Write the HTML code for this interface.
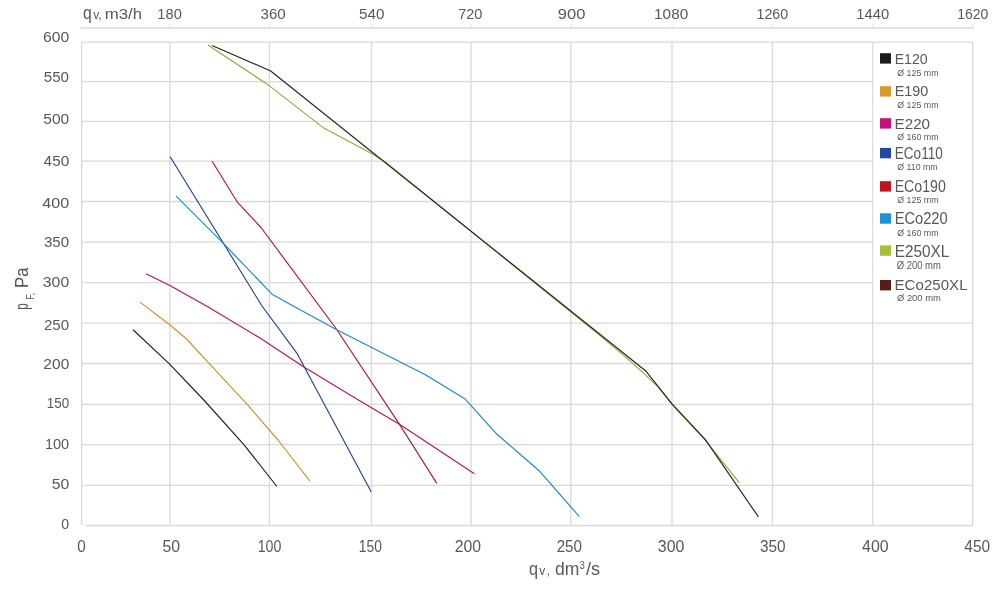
<!DOCTYPE html><html><head><meta charset="utf-8"><style>html,body{margin:0;padding:0;background:#fff;width:1000px;height:594px;overflow:hidden}svg{display:block}text{font-family:"Liberation Sans", sans-serif;fill:#585858}</style></head><body>
<svg width="1000" height="594" viewBox="0 0 1000 594">
<rect width="1000" height="594" fill="#fff"/>
<g stroke="#d9d9d9" stroke-width="1.3" fill="none"><line x1="81.6" y1="42.1" x2="972.7" y2="42.1"/><line x1="81.6" y1="81.7" x2="972.7" y2="81.7"/><line x1="81.6" y1="121.4" x2="972.7" y2="121.4"/><line x1="81.6" y1="161.1" x2="972.7" y2="161.1"/><line x1="81.6" y1="201.5" x2="972.7" y2="201.5"/><line x1="81.6" y1="242.2" x2="972.7" y2="242.2"/><line x1="81.6" y1="282.6" x2="972.7" y2="282.6"/><line x1="81.6" y1="323.1" x2="972.7" y2="323.1"/><line x1="81.6" y1="363.5" x2="972.7" y2="363.5"/><line x1="81.6" y1="404.3" x2="972.7" y2="404.3"/><line x1="81.6" y1="444.6" x2="972.7" y2="444.6"/><line x1="81.6" y1="485.4" x2="972.7" y2="485.4"/><line x1="85.5" y1="525.5" x2="972.7" y2="525.5"/><line x1="81.6" y1="42.1" x2="81.6" y2="524.6"/><line x1="169.9" y1="42.1" x2="169.9" y2="525.5"/><line x1="269.4" y1="42.1" x2="269.4" y2="525.5"/><line x1="371.5" y1="42.1" x2="371.5" y2="525.5"/><line x1="471.0" y1="42.1" x2="471.0" y2="525.5"/><line x1="570.8" y1="42.1" x2="570.8" y2="525.5"/><line x1="672.0" y1="42.1" x2="672.0" y2="525.5"/><line x1="772.5" y1="42.1" x2="772.5" y2="525.5"/><line x1="872.8" y1="42.1" x2="872.8" y2="525.5"/><line x1="972.7" y1="42.1" x2="972.7" y2="525.5"/><line x1="80.6" y1="28" x2="973.5" y2="28"/><line x1="169.9" y1="24" x2="169.9" y2="28" stroke-opacity="0.5"/><line x1="269.4" y1="24" x2="269.4" y2="28" stroke-opacity="0.5"/><line x1="371.5" y1="24" x2="371.5" y2="28" stroke-opacity="0.5"/><line x1="471.0" y1="24" x2="471.0" y2="28" stroke-opacity="0.5"/><line x1="570.8" y1="24" x2="570.8" y2="28" stroke-opacity="0.5"/><line x1="672.0" y1="24" x2="672.0" y2="28" stroke-opacity="0.5"/><line x1="772.5" y1="24" x2="772.5" y2="28" stroke-opacity="0.5"/><line x1="872.8" y1="24" x2="872.8" y2="28" stroke-opacity="0.5"/><line x1="972.7" y1="24" x2="972.7" y2="28" stroke-opacity="0.5"/></g>
<rect x="873.6" y="42.9" width="98.3" height="268" fill="#fff"/>
<polyline points="208.6,45.4 268.2,84.9 323.8,128.1 374.3,155.0 386.8,163.1 600.0,335.6 625.0,356.6 643.2,372.8 658.0,386.8 672.0,404.5 705.2,440.1 739.0,482.3" fill="none" stroke="#92aa3c" stroke-width="1.15" stroke-linejoin="round" stroke-linecap="round"/>
<polyline points="212.6,45.7 270.7,71.0 646.1,371.3 672.0,403.8 705.2,439.3 758.1,516.4" fill="none" stroke="#272220" stroke-width="1.15" stroke-linejoin="round" stroke-linecap="round"/>
<polyline points="133.3,330.0 169.4,363.9 203.8,400.0 243.9,444.6 276.5,486.0" fill="none" stroke="#202020" stroke-width="1.15" stroke-linejoin="round" stroke-linecap="round"/>
<polyline points="140.3,302.4 169.7,324.8 186.1,338.5 209.0,363.3 247.0,404.2 278.0,440.0 309.5,480.6" fill="none" stroke="#c89230" stroke-width="1.15" stroke-linejoin="round" stroke-linecap="round"/>
<polyline points="146.5,274.1 169.9,285.6 207.3,306.5 260.0,338.1 303.9,367.1 358.4,400.0 400.2,424.8 474.0,473.4" fill="none" stroke="#ae1860" stroke-width="1.15" stroke-linejoin="round" stroke-linecap="round"/>
<polyline points="170.3,157.0 262.0,306.0 297.0,353.3 371.0,491.5" fill="none" stroke="#26428a" stroke-width="1.15" stroke-linejoin="round" stroke-linecap="round"/>
<polyline points="212.3,161.5 237.1,201.8 261.0,227.5 336.0,328.5 399.8,424.9 436.5,482.9" fill="none" stroke="#ae1c28" stroke-width="1.15" stroke-linejoin="round" stroke-linecap="round"/>
<polyline points="176.4,196.4 222.7,242.7 272.0,294.2 295.0,307.0 338.1,330.6 424.9,374.5 465.2,399.1 497.0,434.3 539.1,470.7 578.9,516.1" fill="none" stroke="#1e88c2" stroke-width="1.15" stroke-linejoin="round" stroke-linecap="round"/>
<rect x="880" y="53.2" width="11" height="10.4" fill="#1c1c1c"/>
<rect x="880" y="86.2" width="11" height="10.4" fill="#d99a2c"/>
<rect x="880" y="118.2" width="11" height="10.4" fill="#c4127a"/>
<rect x="880" y="147.9" width="11" height="10.4" fill="#23479c"/>
<rect x="880" y="181.2" width="11" height="10.4" fill="#c0141e"/>
<rect x="880" y="213.3" width="11" height="10.4" fill="#1b93d8"/>
<rect x="880" y="245.4" width="11" height="10.4" fill="#a5c237"/>
<rect x="880" y="280.0" width="11" height="10.4" fill="#5a1c16"/>
<text x="157.35" y="18.50" font-size="14.46" textLength="24.44" lengthAdjust="spacingAndGlyphs">180</text>
<text x="260.55" y="18.69" font-size="14.71" textLength="25.20" lengthAdjust="spacingAndGlyphs">360</text>
<text x="358.95" y="18.61" font-size="14.48" textLength="25.41" lengthAdjust="spacingAndGlyphs">540</text>
<text x="458.28" y="18.50" font-size="14.42" textLength="24.14" lengthAdjust="spacingAndGlyphs">720</text>
<text x="557.85" y="18.52" font-size="14.56" textLength="27.61" lengthAdjust="spacingAndGlyphs">900</text>
<text x="654.11" y="18.50" font-size="14.44" textLength="34.06" lengthAdjust="spacingAndGlyphs">1080</text>
<text x="756.47" y="18.50" font-size="14.49" textLength="31.64" lengthAdjust="spacingAndGlyphs">1260</text>
<text x="856.25" y="18.50" font-size="14.42" textLength="32.85" lengthAdjust="spacingAndGlyphs">1440</text>
<text x="957.21" y="18.50" font-size="14.48" textLength="31.18" lengthAdjust="spacingAndGlyphs">1620</text>
<text x="42.94" y="42.19" font-size="15.12" textLength="26.24" lengthAdjust="spacingAndGlyphs">600</text>
<text x="43.76" y="81.70" font-size="14.96" textLength="25.30" lengthAdjust="spacingAndGlyphs">550</text>
<text x="43.35" y="123.68" font-size="15.43" textLength="25.91" lengthAdjust="spacingAndGlyphs">500</text>
<text x="43.58" y="166.05" font-size="14.86" textLength="25.67" lengthAdjust="spacingAndGlyphs">450</text>
<text x="42.28" y="208.09" font-size="14.19" textLength="26.87" lengthAdjust="spacingAndGlyphs">400</text>
<text x="43.94" y="246.70" font-size="14.57" textLength="25.25" lengthAdjust="spacingAndGlyphs">350</text>
<text x="42.83" y="287.20" font-size="14.73" textLength="26.36" lengthAdjust="spacingAndGlyphs">300</text>
<text x="43.98" y="329.50" font-size="14.81" textLength="25.20" lengthAdjust="spacingAndGlyphs">250</text>
<text x="43.38" y="369.00" font-size="14.94" textLength="25.93" lengthAdjust="spacingAndGlyphs">200</text>
<text x="46.70" y="408.00" font-size="14.81" textLength="22.44" lengthAdjust="spacingAndGlyphs">150</text>
<text x="44.90" y="449.00" font-size="15.01" textLength="24.28" lengthAdjust="spacingAndGlyphs">100</text>
<text x="51.66" y="489.20" font-size="14.28" textLength="17.60" lengthAdjust="spacingAndGlyphs">50</text>
<text x="61.23" y="529.29" font-size="14.96" textLength="7.90" lengthAdjust="spacingAndGlyphs">0</text>
<text x="77.28" y="552.20" font-size="16.54" textLength="8.53" lengthAdjust="spacingAndGlyphs">0</text>
<text x="162.42" y="552.19" font-size="16.35" textLength="17.66" lengthAdjust="spacingAndGlyphs">50</text>
<text x="257.73" y="552.00" font-size="16.32" textLength="23.62" lengthAdjust="spacingAndGlyphs">100</text>
<text x="358.86" y="552.00" font-size="16.19" textLength="23.12" lengthAdjust="spacingAndGlyphs">150</text>
<text x="454.80" y="552.00" font-size="16.36" textLength="26.31" lengthAdjust="spacingAndGlyphs">200</text>
<text x="556.72" y="552.00" font-size="16.19" textLength="25.21" lengthAdjust="spacingAndGlyphs">250</text>
<text x="657.84" y="552.20" font-size="16.50" textLength="26.51" lengthAdjust="spacingAndGlyphs">300</text>
<text x="759.92" y="552.20" font-size="16.36" textLength="25.67" lengthAdjust="spacingAndGlyphs">350</text>
<text x="862.04" y="552.05" font-size="16.30" textLength="26.55" lengthAdjust="spacingAndGlyphs">400</text>
<text x="964.33" y="552.10" font-size="16.29" textLength="25.77" lengthAdjust="spacingAndGlyphs">450</text>
<text x="894.66" y="64.00" font-size="14.42" textLength="32.98" lengthAdjust="spacingAndGlyphs">E120</text>
<text x="897.27" y="75.81" font-size="8.77" textLength="41.34" lengthAdjust="spacingAndGlyphs" fill="#6a6a6a">Ø 125 mm</text>
<text x="894.67" y="96.00" font-size="14.42" textLength="33.65" lengthAdjust="spacingAndGlyphs">E190</text>
<text x="897.27" y="108.31" font-size="8.77" textLength="41.34" lengthAdjust="spacingAndGlyphs" fill="#6a6a6a">Ø 125 mm</text>
<text x="894.56" y="129.00" font-size="14.42" textLength="35.49" lengthAdjust="spacingAndGlyphs">E220</text>
<text x="897.26" y="140.04" font-size="8.23" textLength="41.35" lengthAdjust="spacingAndGlyphs" fill="#6a6a6a">Ø 160 mm</text>
<text x="894.85" y="158.50" font-size="15.74" textLength="47.84" lengthAdjust="spacingAndGlyphs">ECo110</text>
<text x="897.28" y="169.87" font-size="8.64" textLength="40.32" lengthAdjust="spacingAndGlyphs" fill="#6a6a6a">Ø 110 mm</text>
<text x="894.65" y="192.00" font-size="15.59" textLength="51.12" lengthAdjust="spacingAndGlyphs">ECo190</text>
<text x="897.27" y="203.31" font-size="8.77" textLength="41.34" lengthAdjust="spacingAndGlyphs" fill="#6a6a6a">Ø 125 mm</text>
<text x="894.63" y="224.00" font-size="15.59" textLength="53.09" lengthAdjust="spacingAndGlyphs">ECo220</text>
<text x="897.26" y="236.04" font-size="8.23" textLength="41.35" lengthAdjust="spacingAndGlyphs" fill="#6a6a6a">Ø 160 mm</text>
<text x="894.75" y="257.00" font-size="16.81" textLength="54.66" lengthAdjust="spacingAndGlyphs">E250XL</text>
<text x="896.78" y="268.88" font-size="10.30" textLength="43.98" lengthAdjust="spacingAndGlyphs" fill="#6a6a6a">Ø 200 mm</text>
<text x="894.55" y="290.00" font-size="15.00" textLength="73.00" lengthAdjust="spacingAndGlyphs">ECo250XL</text>
<text x="897.00" y="300.91" font-size="8.65" textLength="43.77" lengthAdjust="spacingAndGlyphs" fill="#6a6a6a">Ø 200 mm</text>
<text x="83.12" y="18.60" font-size="19.00" textLength="8.76" lengthAdjust="spacingAndGlyphs">q</text>
<text x="93.13" y="18.60" font-size="12.50" textLength="5.97" lengthAdjust="spacingAndGlyphs">v</text>
<text x="98.35" y="18.60" font-size="12.50" textLength="3.40" lengthAdjust="spacingAndGlyphs">,</text>
<text x="104.76" y="18.70" font-size="14.30" textLength="37.30" lengthAdjust="spacingAndGlyphs">m3/h</text>
<text x="528.95" y="574.60" font-size="19.00" textLength="9.03" lengthAdjust="spacingAndGlyphs">q</text>
<text x="539.15" y="574.60" font-size="12.50" textLength="5.98" lengthAdjust="spacingAndGlyphs">v</text>
<text x="546.69" y="574.60" font-size="12.50" textLength="3.35" lengthAdjust="spacingAndGlyphs">,</text>
<text x="554.93" y="574.60" font-size="17.50" textLength="24.35" lengthAdjust="spacingAndGlyphs">dm</text>
<text x="579.40" y="568.90" font-size="10.51" textLength="5.32" lengthAdjust="spacingAndGlyphs">3</text>
<text x="585.96" y="574.60" font-size="17.50" textLength="14.09" lengthAdjust="spacingAndGlyphs">/s</text>
<g transform="translate(27.7,309.7) rotate(-90)"><text x="0" y="0" font-size="18" textLength="6.5" lengthAdjust="spacingAndGlyphs">p</text><text x="10" y="6.6" font-size="10" textLength="7" lengthAdjust="spacingAndGlyphs">F,</text><text x="21.8" y="0" font-size="18" textLength="20.3" lengthAdjust="spacingAndGlyphs">Pa</text></g>
</svg></body></html>
